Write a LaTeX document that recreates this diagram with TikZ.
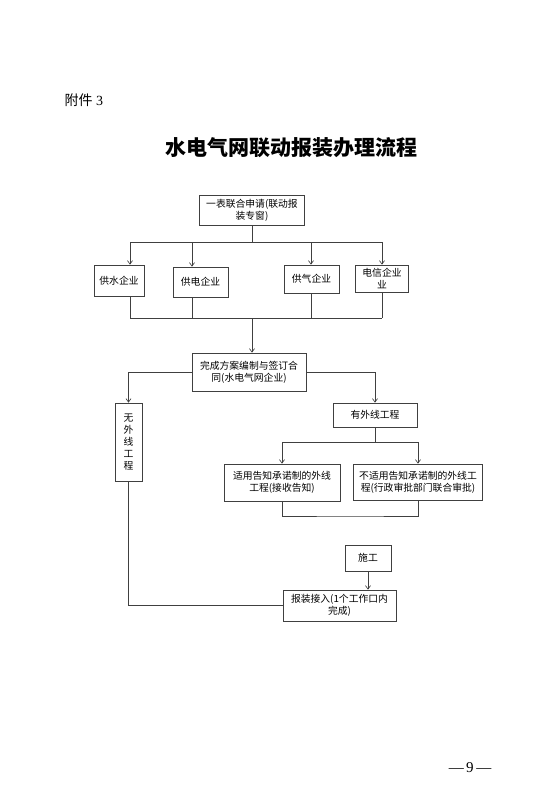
\documentclass[tikz,border=0pt]{standalone}
\usepackage{fontspec}
\setmainfont{Liberation Serif}
\newfontfamily\cjk{Noto Sans CJK SC}
\usetikzlibrary{arrows.meta, positioning}

\begin{document}
\begin{tikzpicture}[
  x=1pt, y=-1pt,
  font=\cjk\fontsize{9.8}{11.8}\selectfont,
  box/.style={
    rectangle, draw=black!75, line width=0.65pt,
    align=center, inner sep=1pt, fill=white
  },
  arr/.style={-{Straight Barb[length=3.5pt,width=5pt]}, draw=black!75, line width=0.65pt},
  ln/.style={draw=black!75, line width=0.65pt}
]
\useasboundingbox[fill=white] (0,0) rectangle (552,795);

\node[anchor=west, font=\fontsize{14}{16}\selectfont] (annex) at (61,100) {{\cjk 附件} 3};
\node[font=\cjk\bfseries\fontsize{21}{24}\selectfont] (title) at (291.5,148) {水电气网联动报装办理流程};

\node[box, minimum width=105pt, minimum height=30pt] (apply) at (252,210) {一表联合申请(联动报\\装专窗)};
\node[box, minimum width=50pt, minimum height=31pt] (water) at (119,280.5) {供水企业};
\node[box, minimum width=55pt, minimum height=30pt] (power) at (200.5,282) {供电企业};
\node[box, minimum width=55pt, minimum height=28pt] (gas) at (311.5,279) {供气企业};
\node[box, minimum width=53pt, minimum height=27pt] (telecom) at (382,278.5) {电信企业\\业};
\node[box, minimum width=114pt, minimum height=38pt] (contract) at (249,372) {完成方案编制与签订合\\同(水电气网企业)};
\node[box, minimum width=27pt, minimum height=78pt] (nooutline) at (128.5,442) {无\\外\\线\\工\\程};
\node[box, minimum width=84pt, minimum height=24pt] (outline) at (375,415) {有外线工程};
\node[box, minimum width=116pt, minimum height=37pt] (notice) at (282,482.5) {适用告知承诺制的外线\\工程(接收告知)};
\node[box, minimum width=129pt, minimum height=36pt] (approval) at (418,482) {不适用告知承诺制的外线工\\程(行政审批部门联合审批)};
\node[box, minimum width=46pt, minimum height=26pt] (build) at (368,558) {施工};
\node[box, minimum width=113pt, minimum height=31pt] (connect) at (339.5,605.5) {报装接入(1个工作口内\\完成)};

\node[font=\fontsize{15}{17}\selectfont] (pageno) at (470,768) {—\,9\,—};

% fan out to the four companies and back
\coordinate (fanout) at (252,242);
\coordinate (fanin) at (252,318);
\foreach \nd/\xx in {water/130, power/192, gas/311, telecom/382} {
  \coordinate (top-\nd) at (\xx,242);
  \coordinate (bot-\nd) at (\xx,318);
  \draw[arr] (top-\nd) -- (top-\nd |- \nd.north);
  \draw[ln] (bot-\nd |- \nd.south) -- (bot-\nd);
}
\draw[ln] (apply.south) -- (fanout);
\draw[ln] (top-water) -- (top-telecom);
\draw[ln] (bot-water) -- (bot-telecom);
\draw[arr] (fanin) -- (fanin |- contract.north);

% two branches
\draw[arr] (contract.west) -| (nooutline.north);
\draw[arr] (contract.east) -| (outline.north);

\coordinate (split) at (375,442);
\coordinate (join) at (350,516);
\draw[ln] (outline.south) -- (split);
\draw[arr] (split) -| (notice.north);
\draw[arr] (split) -| (approval.north);
\draw[ln] (notice.south) |- (join) -| (approval.south);

\draw[arr] (build.south) -- (build.south |- connect.north);
\draw[ln] (nooutline.south) |- (connect.west);

\end{tikzpicture}
\end{document}
